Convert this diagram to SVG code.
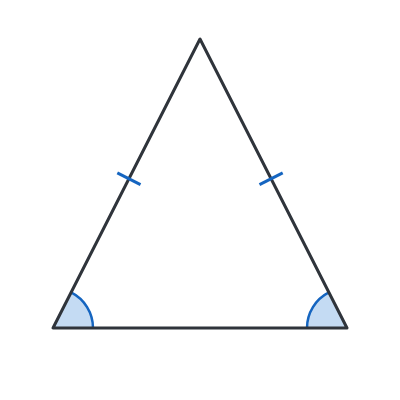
<svg xmlns="http://www.w3.org/2000/svg" width="400" height="400" viewBox="0 0 400 400">
<style>
.tri{fill:none;stroke:#2f343b;stroke-width:3;stroke-linejoin:round}
.ang{fill:#c4dbf3;stroke:none}
.arc{fill:none;stroke:#1565c0;stroke-width:2.5}
.tick{stroke:#1565c0;stroke-width:3}
</style>
<rect width="400" height="400" fill="#ffffff"/>
<g id="angles">
<path class="ang" d="M53,328 L71.1,292.4 A40,40 0 0 1 93,328 Z"/>
<path class="arc" d="M71.1,292.4 A40,40 0 0 1 93,328"/>
<path class="ang" d="M347,328 L307,328 A40,40 0 0 1 328.9,292.4 Z"/>
<path class="arc" d="M307,328 A40,40 0 0 1 328.9,292.4"/>
</g>
<g id="triangle">
<polygon class="tri" points="200,39 53,328 347,328"/>
</g>
<g id="ticks">
<line class="tick" x1="117.3" y1="172.8" x2="140.5" y2="184.6"/>
<line class="tick" x1="282.7" y1="172.8" x2="259.5" y2="184.6"/>
</g>
</svg>
